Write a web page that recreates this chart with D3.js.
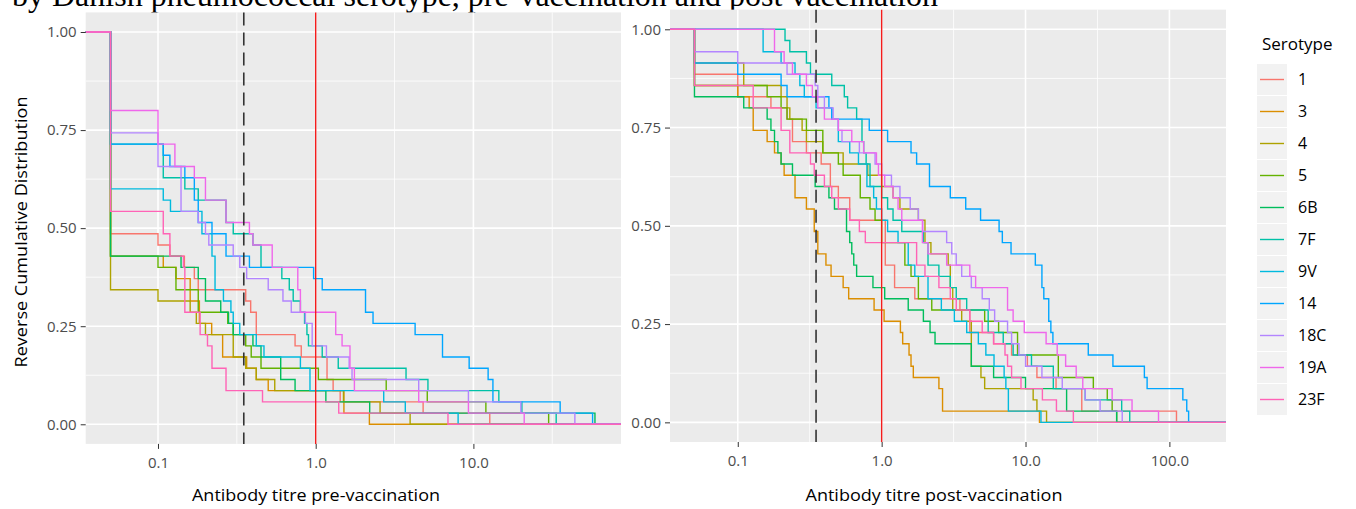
<!DOCTYPE html>
<meta charset="utf-8">
<style>
body { margin: 0; background: #fff; }
text { font-family: "Open Sans", sans-serif; }
.axis text { fill: #4d4d4d; font-size: 15px; }
.axis line { stroke: #333; stroke-width: 1px; }
.axis path { display: none; }
path.ecdf { fill: none; stroke-width: 1.4px; }
</style>
<body>
<div id="chart"></div>
<script src="https://d3js.org/d3.v7.min.js"></script>
<script>

var N = 35; // subjects per serotype

var serotypes = ["1", "3", "4", "5", "6B", "7F", "9V", "14", "18C", "19A", "23F"];
var palette = ["#F8766D", "#DB8E00", "#AEA200", "#64B200", "#00BD5C", "#00C1A7",
               "#00BADE", "#00A6FF", "#B385FF", "#EF67EB", "#FF63B6"];

var pre_1   = [[0.05,17],[0.1,16],[0.119,15],[0.147,14],[0.17,13],[0.18,12],[0.36,11],[0.387,10],[0.42,8],[0.74,7],[0.81,6],[1.18,4],[1.29,3],[1.43,2],[4.8,1],[12.7,0]];
var pre_3   = [[0.05,15],[0.108,14],[0.13,13],[0.16,11],[0.183,9],[0.219,8],[0.257,6],[0.365,5],[0.42,4],[0.5,3],[1.51,1],[2.19,0]];
var pre_4   = [[0.05,12],[0.1,11],[0.16,10],[0.175,9],[0.2,8],[0.3,6],[0.36,5],[0.42,4],[0.55,3],[1.5,2],[2.56,1],[3.97,0]];
var pre_5   = [[0.05,15],[0.1,14],[0.13,12],[0.18,10],[0.277,9],[0.3,8],[0.36,7],[0.39,6],[0.45,5],[1.04,4],[2.8,3],[5.1,2],[12,1],[30,0]];
var pre_6B  = [[0.05,15],[0.14,14],[0.18,13],[0.2,11],[0.25,10],[0.28,9],[0.3,8],[0.4,7],[0.45,6],[0.6,4],[0.74,3],[1.16,2],[2.2,1],[59,0]];
var pre_7F  = [[0.05,25],[0.108,22],[0.148,21],[0.18,20],[0.27,18],[0.3,17],[0.4,16],[0.45,14],[0.61,13],[0.68,12],[0.72,11],[0.8,10],[0.85,9],[0.88,8],[0.9,7],[1.1,6],[1.39,5],[3.74,4],[5.15,3],[14.5,2],[20.3,1],[33.5,0]];
var pre_9V  = [[0.05,21],[0.108,20],[0.12,19],[0.19,17],[0.22,15],[0.23,12],[0.26,11],[0.29,10],[0.3,9],[0.33,8],[0.42,7],[0.47,6],[0.8,5],[0.92,3],[2.7,2],[3.7,1],[8,0]];
var pre_14  = [[0.05,25],[0.108,24],[0.119,23],[0.148,22],[0.17,20],[0.18,18],[0.22,17],[0.27,15],[0.38,14],[0.97,13],[1.1,12],[2.07,10],[2.31,9],[4.27,8],[6.37,6],[9.4,5],[12.4,4],[13.3,2],[35.5,1],[57,0]];
var pre_18C = [[0.05,26],[0.1,23],[0.14,19],[0.18,18],[0.2,17],[0.21,16],[0.3,15],[0.33,14],[0.365,13],[0.5,12],[0.62,11],[0.7,10],[0.86,9],[0.95,7],[1.17,6],[1.63,5],[1.7,4],[4.5,3],[9.3,2],[20,1],[44,0]];
var pre_19A = [[0.05,28],[0.1,25],[0.128,23],[0.17,22],[0.2,20],[0.27,18],[0.38,17],[0.4,16],[0.53,14],[0.77,12],[0.8,10],[1.34,8],[1.47,7],[1.65,5],[1.76,3],[4.5,2],[9.3,1],[21,0]];
var pre_23F = [[0.05,19],[0.108,17],[0.119,15],[0.145,14],[0.148,10],[0.185,8],[0.206,7],[0.22,5],[0.27,3],[0.46,2],[1.4,1],[6.9,0]];

var post_1   = [[0.05,31],[0.1,29],[0.17,28],[0.22,27],[0.24,25],[0.3,24],[0.38,23],[0.44,21],[0.5,20],[0.6,18],[1.06,14],[1.23,12],[1.7,11],[3.5,10],[4.1,8],[6,7],[8,6],[10.3,5],[12,4],[16.3,3],[24.6,1],[112,0]];
var post_3   = [[0.05,30],[0.1,29],[0.12,28],[0.128,26],[0.16,25],[0.18,24],[0.2,23],[0.21,22],[0.25,20],[0.3,19],[0.34,17],[0.36,15],[0.41,14],[0.445,13],[0.54,12],[0.59,11],[0.886,10],[1.04,9],[1.35,8],[1.4,7],[1.55,6],[1.6,5],[1.66,4],[2.5,3],[2.65,1],[12.5,0]];
var post_4   = [[0.05,32],[0.11,30],[0.2,29],[0.22,28],[0.23,27],[0.28,26],[0.3,25],[0.39,24],[0.54,23],[0.8,22],[1.0,21],[1.2,20],[1.34,19],[1.8,18],[2.0,16],[2.2,15],[2.9,14],[3.0,12],[3.12,10],[3.6,9],[4.2,5],[4.9,4],[5.2,3],[11.3,2],[12,1],[14,0]];
var post_5   = [[0.05,30],[0.16,29],[0.2,28],[0.22,27],[0.3,26],[0.39,24],[0.5,23],[0.54,22],[0.71,20],[0.83,19],[0.9,18],[1.0,16],[1.45,14],[1.6,13],[1.8,11],[2.23,10],[5.2,9],[6.5,8],[8.8,6],[16.9,4],[29.6,3],[37,2],[40,1],[43,0]];
var post_6B  = [[0.05,29],[0.11,28],[0.16,27],[0.17,26],[0.18,25],[0.19,24],[0.2,23],[0.24,22],[0.345,21],[0.43,20],[0.47,19],[0.57,17],[0.6,16],[0.62,15],[0.64,14],[0.67,13],[0.87,12],[1.05,11],[1.53,10],[1.95,9],[2.17,8],[2.35,7],[4.2,5],[6,4],[10,3],[19.3,1],[43,0]];
var post_7F  = [[0.213,34],[0.23,33],[0.3,32],[0.32,31],[0.45,30],[0.55,29],[0.58,28],[0.67,27],[0.73,25],[0.75,24],[0.78,23],[0.83,21],[1.0,20],[1.1,19],[1.2,18],[1.38,17],[1.95,16],[2.1,14],[2.5,13],[3.0,12],[3.3,11],[3.9,10],[5.5,8],[7,7],[8.2,6],[11,5],[15.6,3],[26,2],[46.6,1],[53,0]];
var post_9V  = [[0.15,33],[0.2,32],[0.25,31],[0.27,30],[0.29,29],[0.35,28],[0.45,27],[0.5,25],[0.6,24],[0.69,23],[0.79,21],[0.88,20],[0.92,19],[1.0,18],[1.1,17],[1.3,16],[1.53,14],[1.7,13],[2.1,11],[2.6,10],[3.2,9],[3.9,8],[4.7,7],[5.3,6],[6.04,5],[7.1,4],[7.3,3],[7.6,1],[12.8,0]];
var post_14  = [[0.05,32],[0.1,31],[0.2,30],[0.22,29],[0.43,28],[0.45,27],[0.82,26],[1.1,25],[1.6,24],[1.75,23],[2.15,21],[3.0,20],[3.84,19],[4.87,18],[6.55,17],[6.9,16],[7.93,15],[11.7,14],[13,12],[13.4,11],[14.5,9],[15,8],[15.5,7],[27.3,6],[40.5,5],[67,4],[70,3],[124,2],[132,1],[136,0]];
var post_18C = [[0.05,33],[0.1,32],[0.22,31],[0.345,30],[0.36,29],[0.4,28],[0.46,27],[0.5,26],[0.53,25],[0.7,24],[0.9,23],[1.0,22],[1.17,21],[1.34,20],[1.58,19],[1.8,18],[1.93,17],[2.83,16],[3.07,15],[3.3,14],[3.6,13],[4.2,12],[5.0,11],[5.6,10],[6.1,9],[7.5,8],[8,7],[9,6],[10,5],[13,4],[18,3],[26,2],[33,1],[47,0]];
var post_19A = [[0.18,33],[0.21,32],[0.24,31],[0.3,30],[0.33,29],[0.36,28],[0.4,27],[0.5,26],[0.62,25],[0.75,24],[0.92,23],[0.95,22],[1.05,21],[1.2,20],[1.3,19],[1.38,18],[1.92,16],[2.1,15],[2.83,14],[4.1,13],[4.5,12],[7.5,10],[8.2,9],[9.8,8],[13.9,7],[16.6,6],[19,5],[22.5,4],[25,3],[40,2],[55,1],[84,0]];
var post_23F = [[0.05,30],[0.128,28],[0.2,26],[0.23,24],[0.32,23],[0.34,22],[0.4,21],[0.45,20],[0.5,19],[0.6,18],[0.7,17],[0.77,16],[1.75,14],[2.0,13],[2.5,12],[3.0,11],[3.3,10],[4.1,9],[5,8],[6,7],[7.2,6],[7.5,5],[8,4],[9.3,3],[13.1,2],[16.4,1],[21.5,0]];

var preSeries  = [pre_1, pre_3, pre_4, pre_5, pre_6B, pre_7F, pre_9V, pre_14, pre_18C, pre_19A, pre_23F];
var postSeries = [post_1, post_3, post_4, post_5, post_6B, post_7F, post_9V, post_14, post_18C, post_19A, post_23F];

var yTicks = [0, 0.25, 0.5, 0.75, 1];
var yMinor = [0.125, 0.375, 0.625, 0.875];
var preTicks = [0.1, 1, 10];
var postTicks = [0.1, 1, 10, 100];
var protectiveLevel = 0.35;   // dashed
var referenceLevel = 1;       // red

var svg = d3.select("#chart").append("svg")
    .attr("width", 1356)
    .attr("height", 509);

var color = d3.scaleOrdinal().domain(serotypes).range(palette);

// title, cut off at the top of the picture as in the source
svg.append("text")
    .attr("x", 12)
    .attr("y", 6)
    .style("font-family", "'Liberation Serif', serif")
    .style("font-size", "32px")
    .attr("fill", "#000")
    .text("by Danish pneumococcal serotype, pre-vaccination and post vaccination");

function drawPanel(p) {
  var x = d3.scaleLog().domain(p.xDomain).range([p.left, p.right]);
  var y = d3.scaleLinear().domain([-0.05, 1.05]).range([p.bottom, p.top]);
  var g = svg.append("g");

  g.append("rect")
      .attr("x", p.left).attr("y", p.top)
      .attr("width", p.right - p.left).attr("height", p.bottom - p.top)
      .attr("fill", "#ebebeb");

  // minor x grid halfway between decades
  var xMinor = [];
  for (var k = Math.floor(Math.log10(p.xDomain[0])); k <= Math.ceil(Math.log10(p.xDomain[1])); k++) {
    var v = Math.pow(10, k + 0.5);
    if (v > p.xDomain[0] && v < p.xDomain[1]) xMinor.push(v);
  }
  g.selectAll(".xminor").data(xMinor).enter().append("line")
      .attr("x1", function(d) { return x(d); }).attr("x2", function(d) { return x(d); })
      .attr("y1", p.top).attr("y2", p.bottom)
      .attr("stroke", "#fff").attr("stroke-width", 0.8);
  g.selectAll(".yminor").data(yMinor).enter().append("line")
      .attr("x1", p.left).attr("x2", p.right)
      .attr("y1", function(d) { return y(d); }).attr("y2", function(d) { return y(d); })
      .attr("stroke", "#fff").attr("stroke-width", 0.8);
  g.selectAll(".xmajor").data(p.ticks).enter().append("line")
      .attr("x1", function(d) { return x(d); }).attr("x2", function(d) { return x(d); })
      .attr("y1", p.top).attr("y2", p.bottom)
      .attr("stroke", "#fff").attr("stroke-width", 1.6);
  g.selectAll(".ymajor").data(yTicks).enter().append("line")
      .attr("x1", p.left).attr("x2", p.right)
      .attr("y1", function(d) { return y(d); }).attr("y2", function(d) { return y(d); })
      .attr("stroke", "#fff").attr("stroke-width", 1.6);

  // reverse cumulative steps, padded to the panel edges
  var line = d3.line()
      .curve(d3.curveStepAfter)
      .x(function(d) { return x(d[0]); })
      .y(function(d) { return y(d[1] / N); });

  g.selectAll("path.ecdf")
      .data(p.series)
    .enter().append("path")
      .attr("class", "ecdf")
      .style("stroke", function(d, i) { return color(serotypes[i]); })
      .attr("d", function(d) {
        return line([[p.xDomain[0], N]].concat(d).concat([[p.xDomain[1], 0]]));
      });

  g.append("line")
      .attr("x1", x(protectiveLevel)).attr("x2", x(protectiveLevel))
      .attr("y1", p.top).attr("y2", p.bottom)
      .attr("stroke", "#333").attr("stroke-width", 1.6)
      .attr("stroke-dasharray", "13,7");
  g.append("line")
      .attr("x1", x(referenceLevel)).attr("x2", x(referenceLevel))
      .attr("y1", p.top).attr("y2", p.bottom)
      .attr("stroke", "#f41c1c").attr("stroke-width", 1.4);

  g.append("g")
      .attr("class", "axis")
      .attr("transform", "translate(0," + p.bottom + ")")
      .call(d3.axisBottom(x).tickValues(p.ticks).tickFormat(d3.format(".1f")).tickSize(5).tickPadding(8));
  g.append("g")
      .attr("class", "axis")
      .attr("transform", "translate(" + p.left + ",0)")
      .call(d3.axisLeft(y).tickValues(yTicks).tickFormat(d3.format(".2f")).tickSize(5).tickPadding(4));

  g.append("text")
      .attr("x", p.titleX).attr("y", 501)
      .attr("text-anchor", "middle")
      .attr("textLength", p.titleLength)
      .attr("lengthAdjust", "spacingAndGlyphs")
      .style("font-size", "17px")
      .attr("fill", "#000")
      .text(p.title);
}

drawPanel({
  left: 85.7, right: 621, top: 12.4, bottom: 443.9,
  xDomain: [0.0348, 86.3], ticks: preTicks, series: preSeries,
  title: "Antibody titre pre-vaccination", titleX: 316, titleLength: 248
});
drawPanel({
  left: 670, right: 1226, top: 9.65, bottom: 442,
  xDomain: [0.0338, 247.4], ticks: postTicks, series: postSeries,
  title: "Antibody titre post-vaccination", titleX: 934, titleLength: 257
});

svg.append("text")
    .attr("transform", "translate(27,232) rotate(-90)")
    .attr("text-anchor", "middle")
    .attr("textLength", 271)
    .attr("lengthAdjust", "spacingAndGlyphs")
    .style("font-size", "16px")
    .attr("fill", "#000")
    .text("Reverse Cumulative Distribution");

// legend
var legend = svg.append("g").attr("transform", "translate(1257,0)");
legend.append("text")
    .attr("x", 5).attr("y", 50)
    .style("font-size", "17px")
    .attr("fill", "#000")
    .text("Serotype");
var key = legend.selectAll("g.key")
    .data(serotypes)
  .enter().append("g")
    .attr("class", "key")
    .attr("transform", function(d, i) { return "translate(0," + (64 + i * 32) + ")"; });
key.append("rect")
    .attr("width", 30).attr("height", 31)
    .attr("fill", "#f2f2f2");
key.append("line")
    .attr("x1", 3).attr("x2", 27)
    .attr("y1", 15.5).attr("y2", 15.5)
    .attr("stroke-width", 1.4)
    .attr("stroke", function(d) { return color(d); });
key.append("text")
    .attr("x", 41).attr("y", 21)
    .style("font-size", "16px")
    .attr("fill", "#000")
    .text(function(d) { return d; });

</script>
</body>
